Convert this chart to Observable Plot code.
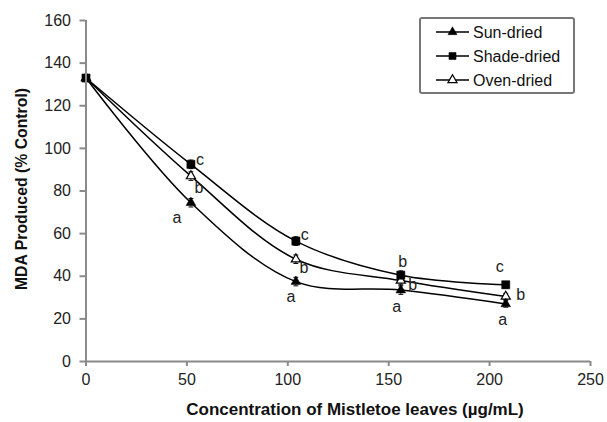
<!DOCTYPE html>
<html>
<head>
<meta charset="utf-8">
<script src="https://cdn.jsdelivr.net/npm/d3@7"></script>
<script src="https://cdn.jsdelivr.net/npm/@observablehq/plot@0.6"></script>
<style>
  html, body { margin: 0; padding: 0; background: #fff; }
  #chart { width: 607px; height: 422px; }
</style>
</head>
<body>
<div id="chart"></div>
<script>
// ---- data ----
const concentrations = [0, 52, 104, 156, 208];
const seriesNames = ["Sun-dried", "Shade-dried", "Oven-dried"];
const sunDried   = [133, 74.5, 37.5, 33.5, 27];
const shadeDried = [133, 92.5, 56.5, 40.5, 36];
const ovenDried  = [133, 87, 48, 38, 30.5];
const sunErr   = [1, 2, 2, 2, 1.5];
const shadeErr = [1, 2, 2, 2, 1.5];
const ovenErr  = [1, 2, 2, 2, 1.5];
const sunLetters   = ["", "a", "a", "a", "a"];
const shadeLetters = ["", "c", "c", "b", "c"];
const ovenLetters  = ["", "b", "b", "b", "b"];
const xTicks = [0, 50, 100, 150, 200, 250];
const yTicks = [0, 20, 40, 60, 80, 100, 120, 140, 160];

const valuesBySeries = [sunDried, shadeDried, ovenDried];
const errBySeries = [sunErr, shadeErr, ovenErr];
const lettersBySeries = [sunLetters, shadeLetters, ovenLetters];

const rows = [];
seriesNames.forEach((s, si) => {
  concentrations.forEach((c, i) => {
    rows.push({series: s, si, i, x: c, y: valuesBySeries[si][i],
      err: errBySeries[si][i], letter: lettersBySeries[si][i]});
  });
});

const font = "Liberation Sans, Arial, sans-serif";
const symbolOf = {"Sun-dried": "triangle", "Shade-dried": "square", "Oven-dried": "triangle"};
const fillOf = {"Sun-dried": "black", "Shade-dried": "black", "Oven-dried": "white"};
const rOf = {"Sun-dried": 3.6, "Shade-dried": 4.6, "Oven-dried": 3.4};

// letter offsets (per series, per point index)
const letterOffsets = {
  "Sun-dried":   [null, [-14, 15], [-5, 15], [-4, 17], [-3, 16]],
  "Shade-dried": [null, [9, -4], [9, -6], [2, -13], [-6, -18]],
  "Oven-dried":  [null, [8, 12], [8, 9], [12, 4], [15, -2]]
};

const marks = [];
seriesNames.forEach(s => {
  marks.push(Plot.line(rows.filter(d => d.series === s), {
    x: "x", y: "y", curve: "catmull-rom", stroke: "black", strokeWidth: 1.5
  }));
});
const errRows = rows.filter(d => d.i > 0);
marks.push(Plot.ruleX(errRows, {x: "x", y1: d => d.y - d.err, y2: d => d.y + d.err, stroke: "black", strokeWidth: 1}));
marks.push(Plot.link(errRows, {x1: d => d.x - 1.2, x2: d => d.x + 1.2, y1: d => d.y + d.err, y2: d => d.y + d.err, stroke: "black", strokeWidth: 1}));
marks.push(Plot.link(errRows, {x1: d => d.x - 1.2, x2: d => d.x + 1.2, y1: d => d.y - d.err, y2: d => d.y - d.err, stroke: "black", strokeWidth: 1}));
["Oven-dried", "Sun-dried", "Shade-dried"].forEach(s => {
  marks.push(Plot.dot(rows.filter(d => d.series === s), {
    x: "x", y: "y", symbol: symbolOf[s], r: rOf[s],
    fill: fillOf[s], stroke: "black", strokeWidth: s === "Oven-dried" ? 1.2 : 0.5
  }));
});
rows.filter(d => d.letter).forEach(d => {
  const [dx, dy] = letterOffsets[d.series][d.i];
  marks.push(Plot.text([d], {x: "x", y: "y", text: "letter", dx, dy,
    fontSize: 16, fontFamily: font, fill: "#222"}));
});
marks.push(Plot.ruleY([0], {stroke: "#8a8a8a", strokeWidth: 2}));
marks.push(Plot.ruleX([0], {stroke: "#8a8a8a", strokeWidth: 2}));
marks.push(Plot.axisX({ticks: xTicks, tickSize: 5, tickPadding: 7, stroke: "#8a8a8a",
  strokeWidth: 2, fontSize: 16, fill: "#222", label: null, tickFormat: d3.format("d")}));
marks.push(Plot.axisY({ticks: yTicks, tickSize: 6, tickPadding: 9, stroke: "#8a8a8a",
  strokeWidth: 2, fontSize: 16, fill: "#222", label: null, tickFormat: d3.format("d")}));

const plot = Plot.plot({
  width: 607, height: 422,
  marginLeft: 85.5, marginRight: 17, marginTop: 20, marginBottom: 61,
  x: {domain: [0, 250]},
  y: {domain: [0, 160]},
  style: {fontFamily: font, fontSize: "16px", background: "white", overflow: "visible"},
  marks
});

const svg = d3.select(plot);
svg.append("text").attr("x", 355).attr("y", 415).attr("text-anchor", "middle")
  .attr("font-family", font).attr("font-weight", "bold").attr("font-size", 17)
  .attr("fill", "#111").text("Concentration of Mistletoe leaves (µg/mL)");
svg.append("text").attr("transform", "translate(27,189) rotate(-90)").attr("text-anchor", "middle")
  .attr("font-family", font).attr("font-weight", "bold").attr("font-size", 15.8)
  .attr("fill", "#111").text("MDA Produced (% Control)");

const lg = svg.append("g").attr("text-anchor", "start");
lg.append("rect").attr("x", 420).attr("y", 18).attr("width", 154).attr("height", 75)
  .attr("fill", "white").attr("stroke", "#777").attr("stroke-width", 2).attr("rx", 2);
const sym = {
  "triangle": d3.symbol(d3.symbolTriangle, 36)(),
  "square": d3.symbol(d3.symbolSquare, 50)()
};
seriesNames.forEach((s, k) => {
  const y = 32 + k * 24;
  lg.append("line").attr("x1", 436).attr("x2", 469).attr("y1", y).attr("y2", y)
    .attr("stroke", "black").attr("stroke-width", 1.5);
  lg.append("path").attr("d", sym[symbolOf[s]]).attr("transform", `translate(452.5,${y})`)
    .attr("fill", fillOf[s]).attr("stroke", "black").attr("stroke-width", s === "Oven-dried" ? 1.2 : 0.5);
  lg.append("text").attr("x", 473).attr("y", y).attr("dy", "0.35em").attr("text-anchor", "start")
    .attr("font-family", font).attr("font-size", 16).attr("fill", "#111").text(s);
});

document.getElementById("chart").appendChild(plot);
</script>
</body>
</html>
